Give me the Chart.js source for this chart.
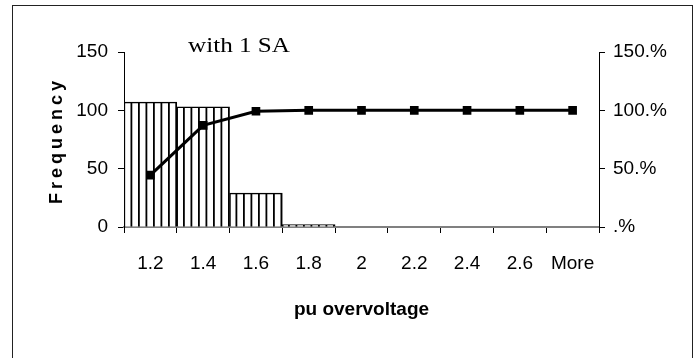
<!DOCTYPE html>
<html>
<head>
<meta charset="utf-8">
<script src="https://cdn.jsdelivr.net/npm/chart.js@4/dist/chart.umd.min.js"></script>
<style>
  html, body { margin: 0; padding: 0; background: #fff; }
  canvas { display: block; }
</style>
</head>
<body>
<canvas id="chart" width="699" height="358"></canvas>
<script>
const bins = ['1.2', '1.4', '1.6', '1.8', '2', '2.2', '2.4', '2.6', 'More'];
const frequency = [107, 103, 29, 2, 0, 0, 0, 0, 0];
const cumulative = [44.4, 87.1, 99.2, 100, 100, 100, 100, 100, 100];
const freqTicks = [0, 50, 100, 150];
const pctTicks = [0, 50, 100, 150];

// vertical hatch used by the histogram bars
function makeHatch() {
  const c = document.createElement('canvas');
  c.width = 15;
  c.height = 4;
  const g = c.getContext('2d');
  g.fillStyle = '#fff';
  g.fillRect(0, 0, 15, 4);
  g.fillStyle = '#000';
  g.fillRect(3, 0, 1.8, 4);
  g.fillRect(10.5, 0, 1.8, 4);
  return g.createPattern(c, 'repeat');
}

const frame = {
  id: 'frame',
  beforeDraw(chart) {
    const ctx = chart.ctx;
    ctx.save();
    ctx.fillStyle = '#fff';
    ctx.fillRect(0, 0, chart.width, chart.height);
    ctx.strokeStyle = '#222';
    ctx.lineWidth = 1;
    ctx.strokeRect(12.5, 5.5, 680, 360);
    ctx.restore();
  },
  afterDraw(chart) {
    const ctx = chart.ctx;
    const area = chart.chartArea;
    ctx.save();
    ctx.fillStyle = '#000';
    ctx.textAlign = 'center';
    ctx.textBaseline = 'middle';

    // the title is drawn a bit wide, like the original
    ctx.save();
    ctx.font = '21px "Liberation Serif", "Times New Roman", serif';
    const w = ctx.measureText('with 1 SA').width;
    ctx.translate(239, 46);
    ctx.scale(102 / w, 1);
    ctx.fillText('with 1 SA', 0, 0);
    ctx.restore();

    ctx.translate(57, (area.top + area.bottom) / 2 + 3);
    ctx.rotate(-Math.PI / 2);
    ctx.font = 'bold 18px "Liberation Sans", Arial, sans-serif';
    ctx.letterSpacing = '4px';
    ctx.fillText('Frequency', 2, 0);
    ctx.restore();
  }
};

Chart.defaults.font.family = '"Liberation Sans", Arial, sans-serif';
Chart.defaults.font.size = 19;
Chart.defaults.color = '#000';

new Chart(document.getElementById('chart'), {
  type: 'bar',
  data: {
    labels: bins,
    datasets: [
      {
        type: 'line',
        label: 'Cumulative %',
        data: cumulative,
        yAxisID: 'y1',
        borderColor: '#000',
        backgroundColor: '#000',
        borderWidth: 3,
        pointStyle: 'rect',
        pointRadius: 4,
        tension: 0,
        order: 0
      },
      {
        label: 'Frequency',
        data: frequency,
        yAxisID: 'y',
        backgroundColor: makeHatch(),
        borderColor: '#000',
        borderWidth: 1.5,
        categoryPercentage: 1,
        barPercentage: 1,
        order: 1
      }
    ]
  },
  options: {
    responsive: false,
    animation: false,
    layout: { padding: { top: 52, left: 0, right: 0, bottom: 0 } },
    plugins: {
      legend: { display: false },
      tooltip: { enabled: false }
    },
    scales: {
      x: {
        grid: { drawOnChartArea: false, drawTicks: true, tickLength: 6, color: '#000', offset: true },
        border: { color: '#808080', width: 2 },
        ticks: { padding: 19 },
        title: {
          display: true,
          text: 'pu overvoltage',
          font: { size: 19, weight: 'bold' },
          padding: { bottom: 37 }
        },
        afterFit(scale) { scale.height = 131; }
      },
      y: {
        position: 'left',
        min: 0,
        max: 150,
        afterBuildTicks(scale) { scale.ticks = freqTicks.map(v => ({ value: v })); },
        grid: { drawOnChartArea: false, tickLength: 6, color: '#000' },
        border: { color: '#000', width: 1 },
        ticks: { padding: 10 },
        afterFit(scale) { scale.width = 124; }
      },
      y1: {
        position: 'right',
        min: 0,
        max: 150,
        afterBuildTicks(scale) { scale.ticks = pctTicks.map(v => ({ value: v })); },
        grid: { drawOnChartArea: false, tickLength: 6, color: '#000' },
        border: { color: '#000', width: 1 },
        ticks: {
          padding: 8,
          callback: v => (v === 0 ? '' : v) + '.%'
        },
        afterFit(scale) { scale.width = 100; }
      }
    }
  },
  plugins: [frame]
});
</script>
</body>
</html>
